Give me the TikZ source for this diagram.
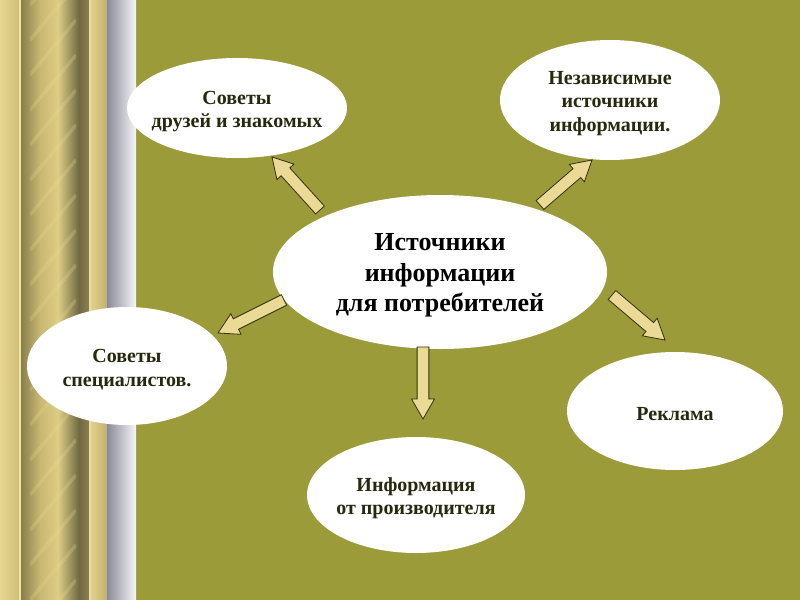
\documentclass[tikz,border=0pt]{standalone}
\usepackage{fontspec}
\setmainfont{Liberation Serif}
\usetikzlibrary{calc,shapes.geometric}
\definecolor{olivebg}{RGB}{155,155,58}
\definecolor{arrowfill}{RGB}{234,218,150}
\definecolor{arrowline}{RGB}{50,48,15}
\definecolor{txt}{RGB}{40,40,15}
\definecolor{gA}{RGB}{230,214,144}
\definecolor{gB}{RGB}{205,189,117}
\definecolor{gC}{RGB}{133,124,72}
\definecolor{gD}{RGB}{200,184,114}
\definecolor{gE}{RGB}{220,204,132}
\definecolor{gF}{RGB}{112,106,66}
\definecolor{gG}{RGB}{140,130,82}
\definecolor{gH}{RGB}{226,210,140}
\definecolor{gI}{RGB}{192,178,110}
\definecolor{grA}{RGB}{138,138,154}
\definecolor{grB}{RGB}{246,246,250}
\definecolor{stripe}{RGB}{236,222,150}
\definecolor{lineA}{RGB}{240,228,165}
\definecolor{lineB}{RGB}{232,220,160}
\tikzset{
  bubble/.style={ellipse, fill=white, draw=none, inner sep=0pt},
  bubbletext/.style={inner sep=0pt, align=center, yshift=-2.6pt,
    font=\bfseries\fontsize{15}{17.5}\selectfont, text=txt},
  maintext/.style={bubbletext, font=\bfseries\fontsize{19.5}{23}\selectfont, text=black},
  blockarrowstyle/.style={fill=arrowfill, draw=arrowline, line width=0.6pt, line join=miter},
}
\newcommand\blockarrow[2]{%
  \coordinate (ba) at ($(#2)!15pt!(#1)$);
  \draw[blockarrowstyle] ($(#1)!4.4pt!90:(#2)$) -- ($(ba)!4.4pt!90:(#2)$) -- ($(ba)!8.6pt!90:(#2)$) -- (#2)
    -- ($(ba)!8.6pt!-90:(#2)$) -- ($(ba)!4.4pt!-90:(#2)$) -- ($(#1)!4.4pt!-90:(#2)$) -- cycle;}
\begin{document}
\begin{tikzpicture}[x=0.75pt,y=-0.75pt]
\useasboundingbox (0,0) rectangle (800,600);
% background
\fill[olivebg] (0,0) rectangle (800,600);
% left decorative column
\shade[left color=gA, right color=gB] (0,0) rectangle (20,600);
\shade[left color=gC, right color=gD] (20,0) rectangle (40,600);
\shade[left color=gD, right color=gE] (40,0) rectangle (58,600);
\shade[left color=gE, right color=gF] (58,0) rectangle (79,600);
\shade[left color=gF, right color=gG] (79,0) rectangle (90,600);
\shade[left color=gH, right color=gI] (90,0) rectangle (107,600);
\shade[left color=grA, right color=grB] (107,0) rectangle (136,600);
\begin{scope}
  \clip (30,0) rectangle (76,600);
  \foreach \k in {-2,...,18}{
    \draw[line width=2.6pt, color=stripe, opacity=0.25]
      (30,{40+35*\k}) -- (76,{40+35*\k-55});
  }
\end{scope}
\draw[color=lineA, line width=0.8pt] (20,0) -- (20,600);
\draw[color=lineB, line width=0.8pt] (90,0) -- (90,600);
% ellipses
\node[bubble, minimum width=250.5pt, minimum height=115.5pt] (center) at (440,272) {};
\node[bubble, minimum width=165pt, minimum height=75pt] (friends) at (237,108) {};
\node[bubble, minimum width=165pt, minimum height=90pt] (indep) at (610,100) {};
\node[bubble, minimum width=150pt, minimum height=88.5pt] (spec) at (127,366) {};
\node[bubble, minimum width=162pt, minimum height=88.5pt] (ads) at (675,411) {};
\node[bubble, minimum width=163.5pt, minimum height=87pt] (maker) at (416,495) {};
% texts
\node[maintext] (centertext) at (center) {Источники\\информации\\для потребителей};
\node[bubbletext] (friendstext) at (friends) {Советы\\друзей и знакомых};
\node[bubbletext] (indeptext) at (indep) {Независимые\\источники\\информации.};
\node[bubbletext] (spectext) at (spec) {Советы\\специалистов.};
\node[bubbletext] (adstext) at (ads) {Реклама};
\node[bubbletext] (makertext) at (maker) {Информация\\от производителя};
% arrow end points
\coordinate (t1) at (320,210); \coordinate (h1) at (272,157);
\coordinate (t2) at (540,205); \coordinate (h2) at (592,160);
\coordinate (t3) at (284,300); \coordinate (h3) at (218,333);
\coordinate (t4) at (423,347); \coordinate (h4) at (423,419);
\coordinate (t5) at (612,295); \coordinate (h5) at (665,340);
\blockarrow{t1}{h1}
\blockarrow{t2}{h2}
\blockarrow{t3}{h3}
\blockarrow{t4}{h4}
\blockarrow{t5}{h5}
\end{tikzpicture}
\end{document}
